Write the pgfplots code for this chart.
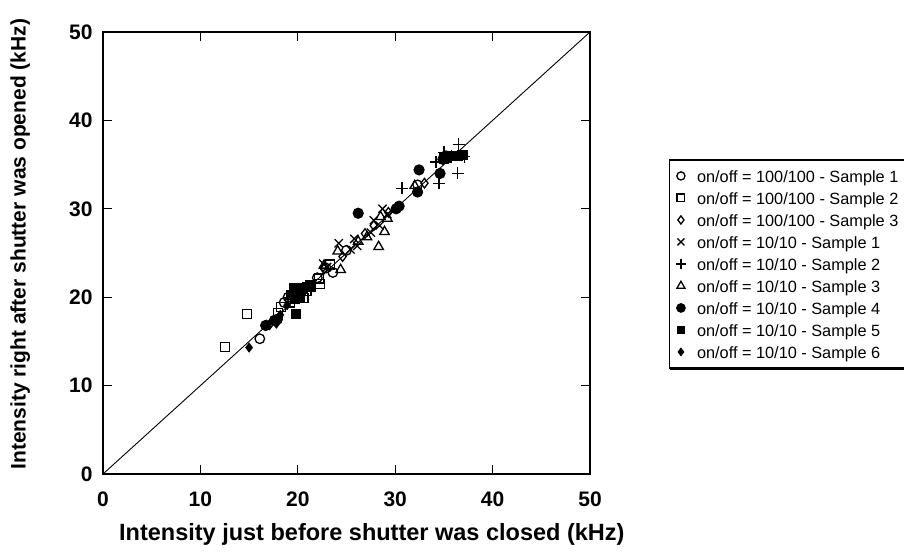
\documentclass[border=0pt]{standalone}
\usepackage{fontspec}
\setmainfont{Liberation Sans}
\usepackage{pgfplots}
\pgfplotsset{compat=1.18}
\usetikzlibrary{shadows}
\begin{document}
\begin{tikzpicture}
\path[use as bounding box] (-103pt,-79pt) rectangle (801pt,474pt);
\begin{axis}[
  scale only axis, width=487pt, height=442pt,
  xmin=0,xmax=50,ymin=0,ymax=50,
  xtick={0,10,...,50}, ytick={0,10,...,50},
  axis line style={line width=1.6pt},
  tick style={black, line width=1.3pt},
  major tick length=9pt,
  tick align=inside,
  /pgf/number format/assume math mode=true,
  ticklabel style={font=\fontsize{21}{25}\selectfont\bfseries},
  xticklabel style={yshift=-14pt},
  yticklabel style={xshift=-7pt},
  xlabel={Intensity just before shutter was closed (kHz)},
  ylabel={Intensity right after shutter was opened (kHz)},
  every axis x label/.style={at={(axis description cs:0.552,-0.136)},anchor=center,font=\fontsize{23.5}{28}\selectfont\bfseries},
  every axis y label/.style={at={(axis description cs:-0.170,0.52)},anchor=center,rotate=90,font=\fontsize{21}{25}\selectfont\bfseries},
  legend style={at={(1.1626,0.712)}, anchor=north west, draw=black, line width=1.3pt, fill=white,
    inner xsep=6pt, inner ysep=5pt, font=\fontsize{16.3}{19}\selectfont,
    nodes={inner sep=0pt, text height=18pt, text depth=4pt},
    row sep=0pt, column sep=11pt,
    drop shadow={shadow xshift=0pt, shadow yshift=-2.5pt, opacity=1, fill=black}},
  legend cell align=left,
  legend image code/.code={\draw[mark repeat=2,mark phase=2,#1,every mark/.append style={scale=0.85}] plot coordinates {(0pt,0pt)(6pt,0pt)(12pt,0pt)};},
]
\addplot[black, line width=0.9pt, forget plot] coordinates {(0,0)(50,50)};
% 100/100 sample 1 (open circle)
\addplot[only marks, mark=o, mark size=4.8pt, mark options={line width=1.3pt, black}] coordinates {
(16.1,15.3)(17.6,17.4)(19.0,20.0)(18.6,19.4)(20.3,20.4)(22.0,22.2)(23.6,22.8)(25.0,25.3)(32.3,32.7)(35.2,36.0)(22.9,23.3)};
\addlegendentry{on/off = 100/100 - Sample 1}
% 100/100 sample 2 (open square)
\addplot[only marks, mark=square, mark size=4.5pt, mark options={line width=1.3pt, black}] coordinates {
(12.5,14.4)(14.8,18.1)(18.3,18.9)(18.0,18.2)(20.6,19.9)(21.3,21.2)(22.2,22.1)(22.3,21.5)(23.3,23.7)(20.9,20.7)(19.2,19.4)};
\addlegendentry{on/off = 100/100 - Sample 2}
% 100/100 sample 3 (open diamond)
\addplot[only marks, mark=diamond, mark size=4.8pt, mark options={line width=1.3pt, black}] coordinates {
(17.1,16.9)(19.4,20.3)(22.7,23.2)(24.6,24.6)(27.8,28.1)(33.0,32.9)(26.9,27.2)(29.3,29.6)};
\addlegendentry{on/off = 100/100 - Sample 3}
% 10/10 sample 1 (x)
\addplot[only marks, mark=x, mark size=5.8pt, mark options={line width=1.3pt, black}] coordinates {
(23.0,23.4)(24.2,26.1)(25.8,26.6)(26.1,25.8)(27.5,27.3)(27.8,28.7)(28.7,30.0)(28.4,28.1)(29.2,29.4)(25.4,25.4)(22.6,23.8)};
\addlegendentry{on/off = 10/10 - Sample 1}
% 10/10 sample 2 (+)
\addplot[only marks, mark=+, mark size=6pt, mark options={line width=1.3pt, black}] coordinates {
(30.7,32.3)(34.5,32.9)(34.2,35.3)(35.0,36.4)(36.5,37.3)(36.4,34.0)(37.1,35.9)(35.8,36.0)};
\addlegendentry{on/off = 10/10 - Sample 2}
% 10/10 sample 3 (triangle)
\addplot[only marks, mark=triangle, mark size=5.5pt, mark options={line width=1.3pt, black}] coordinates {
(22.7,23.6)(24.1,25.2)(24.4,23.1)(27.1,26.8)(28.3,25.7)(28.9,27.4)(28.5,29.1)(29.2,28.9)(26.2,26.3)(32.0,32.6)};
\addlegendentry{on/off = 10/10 - Sample 3}
% 10/10 sample 4 (filled circle)
\addplot[only marks, mark=*, mark size=5.2pt, mark options={line width=0.8pt, black, fill=black}] coordinates {
(16.7,16.8)(17.9,17.5)(26.2,29.5)(30.1,30.0)(32.3,31.9)(32.45,34.4)(34.6,34.0)(34.9,35.6)(30.4,30.3)};
\addlegendentry{on/off = 10/10 - Sample 4}
% 10/10 sample 5 (filled square)
\addplot[only marks, mark=square*, mark size=4.6pt, mark options={line width=0.8pt, black, fill=black}] coordinates {
(19.8,18.1)(19.3,20.3)(19.6,21.0)(20.1,20.6)(20.5,21.0)(20.9,21.2)(19.7,19.8)(20.2,20.0)(35.3,35.8)(35.9,36.0)(36.4,36.0)(36.9,36.1)(35.0,35.7)(21.3,21.4)};
\addlegendentry{on/off = 10/10 - Sample 5}
% 10/10 sample 6 (filled diamond)
\addplot[only marks, mark=diamond*, mark size=4.5pt, mark options={line width=0.8pt, black, fill=black}] coordinates {
(15.0,14.3)(17.4,17.3)(18.2,18.0)(18.9,19.1)(17.8,17.0)(16.8,16.9)};
\addlegendentry{on/off = 10/10 - Sample 6}
\end{axis}
\end{tikzpicture}
\end{document}
